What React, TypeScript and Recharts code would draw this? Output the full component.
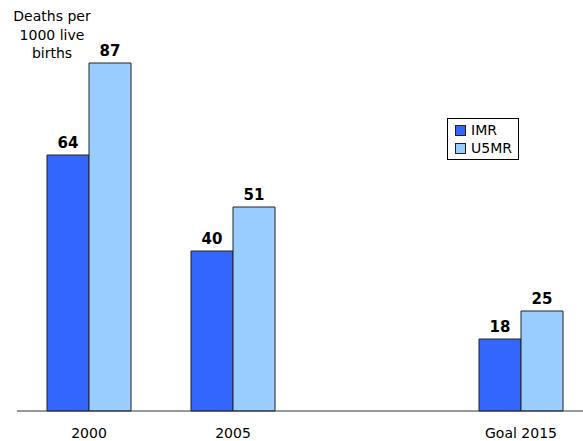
import React from 'react';
import { BarChart, Bar, XAxis, YAxis, LabelList } from 'recharts';

// categories (third slot is an empty spacer on the axis)
const categories = ['2000', '2005', '', 'Goal 2015'];
const imrValues = [64, 40, null, 18];
const u5mrValues = [87, 51, null, 25];

const data = categories.map((c, i) => ({ name: c, IMR: imrValues[i], U5MR: u5mrValues[i] }));

const FONT = '"DejaVu Sans", Verdana, sans-serif';

const series = [
  { key: 'IMR', color: '#3366FF' },
  { key: 'U5MR', color: '#99CCFF' },
];

const App: React.FC = () => {
  return (
    <div style={{ position: 'absolute', left: 0, top: 0, width: 583, height: 441, overflow: 'hidden', background: '#fff' }}>
      <div style={{ position: 'absolute', left: 2, top: 7, width: 100, textAlign: 'center', fontFamily: FONT, fontSize: 14, lineHeight: '18.5px', color: '#000' }}>
        Deaths per 1000 live births
      </div>
      <div style={{ position: 'absolute', left: 447, top: 118, border: '1px solid #000', background: '#fff', padding: '2px 6px 2px 7px', fontFamily: FONT, fontSize: 14, lineHeight: '18px', color: '#000', zIndex: 2 }}>
        {series.map(s => (
          <div key={s.key} style={{ display: 'flex', alignItems: 'center' }}>
            <span style={{ display: 'inline-block', width: 9, height: 9, background: s.color, border: '1px solid #222', marginRight: 5 }} />
            {s.key}
          </div>
        ))}
      </div>
      <BarChart
        width={600}
        height={441}
        data={data}
        margin={{ top: 11, right: 7, left: 17, bottom: 0 }}
        barCategoryGap={30}
        barGap={0}
      >
        <XAxis
          dataKey="name"
          tickLine={false}
          axisLine={{ stroke: '#333', strokeWidth: 1 }}
          height={30}
          interval={0}
          dy={9}
          tick={{ fill: '#000', fontSize: 14, fontFamily: FONT }}
        />
        <YAxis hide domain={[0, 100]} />
        {series.map(s => (
          <Bar key={s.key} dataKey={s.key} fill={s.color} stroke="#222" strokeWidth={1} barSize={42} isAnimationActive={false}>
            <LabelList dataKey={s.key} position="top" offset={7} style={{ fill: '#000', fontWeight: 'bold', fontSize: 15, fontFamily: FONT }} />
          </Bar>
        ))}
      </BarChart>
    </div>
  );
};

export default App;
